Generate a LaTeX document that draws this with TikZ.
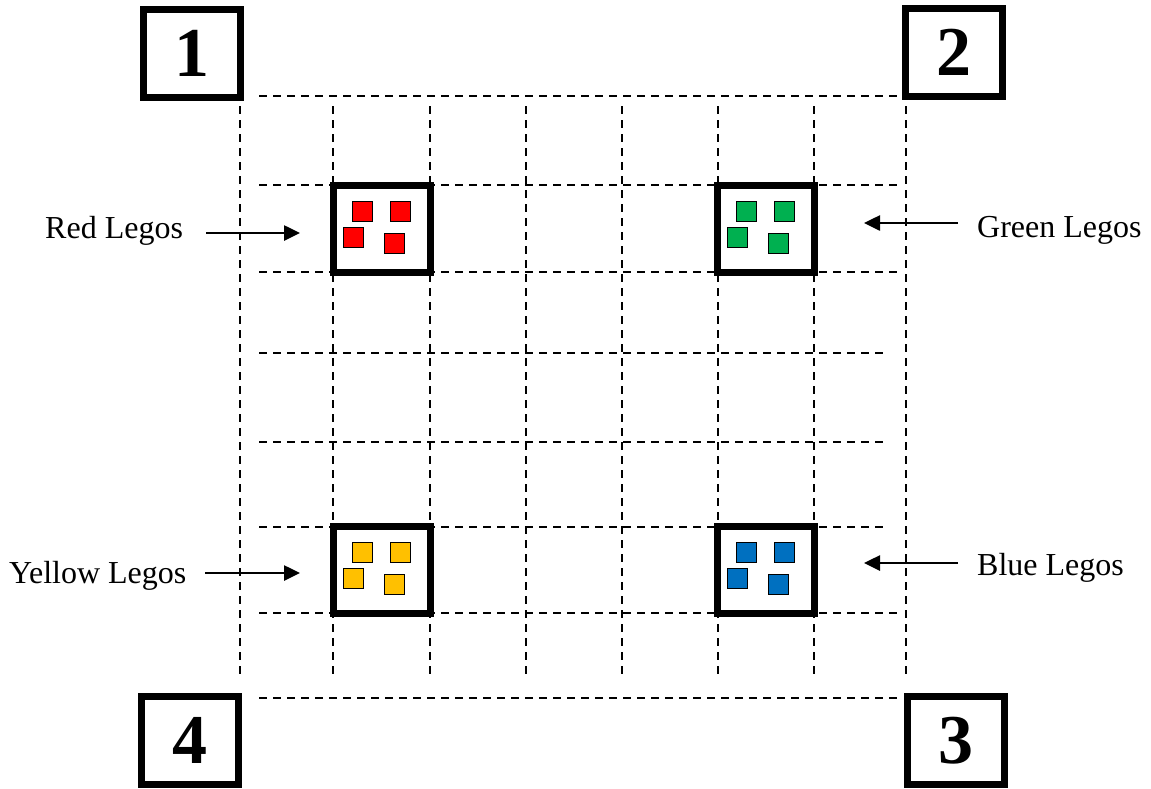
\documentclass[tikz,border=0pt]{standalone}
\usepackage{fontspec}
\setmainfont{Liberation Serif}
\usetikzlibrary{arrows.meta}
\definecolor{legored}{HTML}{FF0000}
\definecolor{legogreen}{HTML}{00B050}
\definecolor{legoyellow}{HTML}{FFC000}
\definecolor{legoblue}{HTML}{0070C0}
\begin{document}
\begin{tikzpicture}[x=1pt,y=-1pt,
 gridline/.style={line width=1.8pt,dash pattern=on 8pt off 6pt},
 corner/.style={draw,line width=7pt,fill=white,minimum width=97pt,minimum height=88pt,inner sep=0pt,font=\fontsize{70}{70}\selectfont\bfseries},
 legobox/.style={draw,line width=7pt,fill=white,inner sep=0pt,minimum width=97pt,minimum height=87pt},
 brick/.style={draw,line width=1.2pt,minimum size=20pt,inner sep=0pt,anchor=north west},
 lbl/.style={anchor=base west,inner sep=0pt,font=\fontsize{32}{38}\selectfont},
 arr/.style={line width=2.6pt,-{Triangle[length=16pt,width=15pt]}}]
\useasboundingbox (0,0) rectangle (1151,788);
% grid
\foreach \y/\xe in {96/900,185/897,272/897,353/883,442/883,527/883,613/900,698/900}
  \draw[gridline] (259,\y) -- (\xe,\y);
\foreach \x in {240,333,430,526,622,718,814,906}
  \draw[gridline] (\x,106) -- (\x,676);
% corner boxes
\node[corner] (c1) at (192,53) {1};
\node[corner] (c2) at (954,52.5) {2};
\node[corner] (c4) at (190,740.5) {4};
\node[corner] (c3) at (956,740.5) {3};
% lego boxes
\node[legobox] (red) at (381.5,228.5) {};
\node[legobox] (green) at (766,228.5) {};
\node[legobox] (yellow) at (381.5,570) {};
\node[legobox] (blue) at (766,570) {};
\foreach \b/\c in {red/legored,green/legogreen,yellow/legoyellow,blue/legoblue}{
  \node[brick,fill=\c] (\b-1) at ([shift={(22,19)}]\b.north west) {};
  \node[brick,fill=\c] (\b-2) at ([shift={(60,19)}]\b.north west) {};
  \node[brick,fill=\c] (\b-3) at ([shift={(13,45)}]\b.north west) {};
  \node[brick,fill=\c] (\b-4) at ([shift={(54,51)}]\b.north west) {};
}
% labels
\node[lbl] (redlbl) at (45,238) {Red Legos};
\node[lbl] (greenlbl) at (977,237) {Green Legos};
\node[lbl] (yellowlbl) at (9,583) {Yellow Legos};
\node[lbl] (bluelbl) at (977,575) {Blue Legos};
% arrows
\coordinate (ra1) at (206,233); \coordinate (ra2) at (300,233);
\coordinate (ga1) at (958,223); \coordinate (ga2) at (864,223);
\coordinate (ya1) at (205,573); \coordinate (ya2) at (300,573);
\coordinate (ba1) at (958,563); \coordinate (ba2) at (864,563);
\draw[arr] (ra1) -- (ra2);
\draw[arr] (ga1) -- (ga2);
\draw[arr] (ya1) -- (ya2);
\draw[arr] (ba1) -- (ba2);
\end{tikzpicture}
\end{document}
